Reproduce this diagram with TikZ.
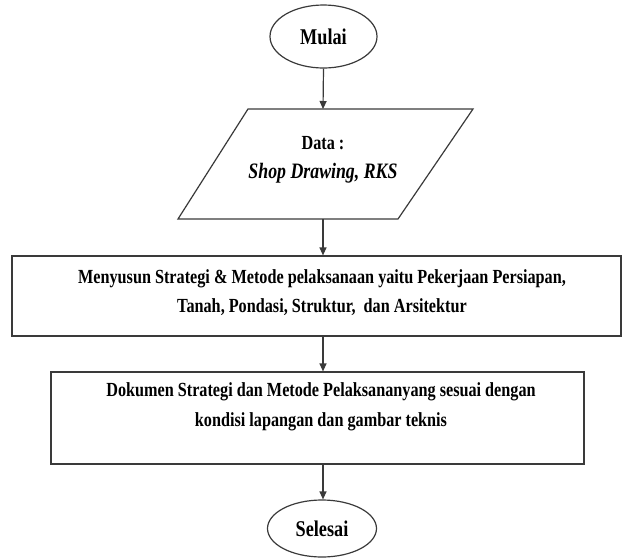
\documentclass[tikz,border=0pt]{standalone}
\usepackage{fontspec}
\setmainfont{Liberation Serif}[FakeStretch=0.81]
\usetikzlibrary{shapes.geometric,arrows.meta}
\definecolor{linegray}{HTML}{3A3A3A}
\tikzset{
  flowline/.style={draw=linegray, line width=1.2pt},
  flowarrow/.style={flowline, -{Triangle[length=8pt,width=7pt]}},
  terminal/.style={flowline, ellipse, inner sep=0pt, font=\fontsize{22.5}{26}\selectfont\bfseries},
  procbox/.style={flowline, rectangle, inner sep=0pt},
  boxtext/.style={align=center, font=\fontsize{20}{29.5}\selectfont\bfseries}
}
\begin{document}
\begin{tikzpicture}[x=1pt,y=-1pt]
\useasboundingbox (0,0) rectangle (633,558);

% start terminal
\node[terminal, minimum width=107pt, minimum height=63pt] (mulai) at (323.5,36.5) {Mulai};

% input data (parallelogram)
\coordinate (p1) at (248,109);
\coordinate (p2) at (473,109);
\coordinate (p3) at (398,219);
\coordinate (p4) at (178,219);
\draw[flowline] (p1) -- (p2) -- (p3) -- (p4) -- cycle;
\coordinate (dataTop) at (323,109);
\coordinate (dataBot) at (323,219);
\node[boxtext] (data) at (323,160) {Data :\\{\fontsize{22}{29.5}\selectfont\itshape Shop Drawing, RKS}};

% process step
\node[procbox, minimum width=609pt, minimum height=80pt] (susun) at (316.5,296) {};
\node[boxtext] (susuntext) at (322,292.5) {Menyusun Strategi \& Metode pelaksanaan yaitu Pekerjaan Persiapan,\\Tanah, Pondasi, Struktur,\ \ dan Arsitektur};

% output document
\node[procbox, minimum width=533pt, minimum height=92pt] (dok) at (317.5,418) {};
\node[boxtext] (doktext) at (321,407) {Dokumen Strategi dan Metode Pelaksananyang sesuai dengan\\kondisi lapangan dan gambar teknis};

% end terminal
\node[terminal, minimum width=109pt, minimum height=57pt] (selesai) at (322,528.5) {Selesai};

% connectors
\draw[flowarrow] (mulai.south) -- (dataTop);
\draw[flowarrow] (dataBot) -- (dataBot |- susun.north);
\draw[flowarrow] (dataBot |- susun.south) -- (dataBot |- dok.north);
\draw[flowarrow] (dataBot |- dok.south) -- (dataBot |- selesai.north);
\end{tikzpicture}
\end{document}
